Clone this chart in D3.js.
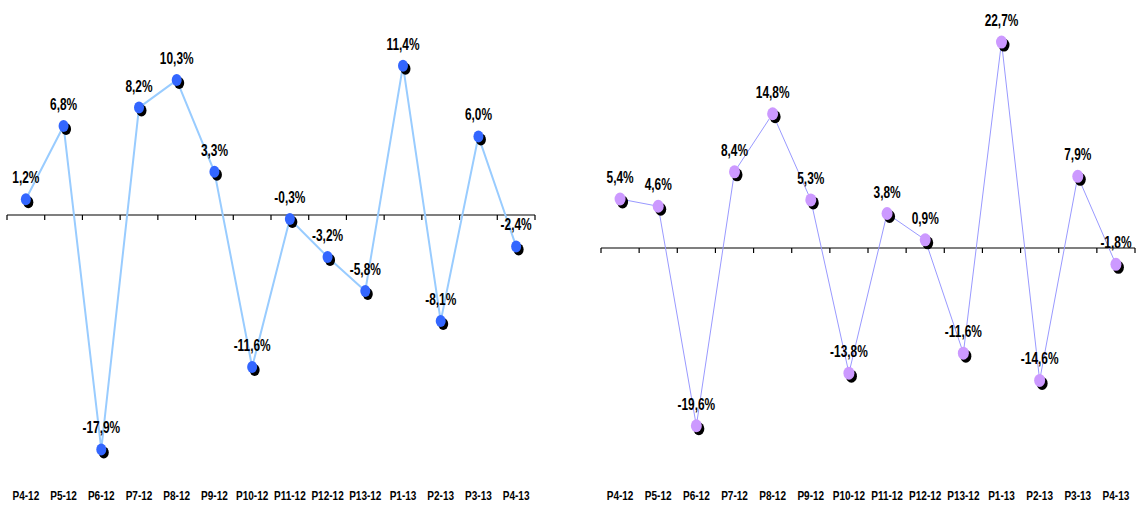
<!DOCTYPE html>
<html>
<head>
<meta charset="utf-8">
<script src="https://cdn.jsdelivr.net/npm/d3@7/dist/d3.min.js"></script>
<style>
  html, body { margin: 0; padding: 0; background: #fff; }
  svg { display: block; }
  .val { font-family: "Liberation Sans", Arial, sans-serif; font-weight: bold; font-size: 17px; fill: #000; }
  .cat text { font-family: "Liberation Sans", Arial, sans-serif; font-weight: bold; font-size: 13px; fill: #000; }
</style>
</head>
<body>
<svg id="chart" width="1138" height="508"></svg>
<script>
// Period labels shared by both panels
const periods = ["P4-12", "P5-12", "P6-12", "P7-12", "P8-12", "P9-12", "P10-12",
                 "P11-12", "P12-12", "P13-12", "P1-13", "P2-13", "P3-13", "P4-13"];

// Period-over-period change (%) — left panel
const changeLeft = [1.2, 6.8, -17.9, 8.2, 10.3, 3.3, -11.6, -0.3, -3.2, -5.8, 11.4, -8.1, 6.0, -2.4];

// Period-over-period change (%) — right panel
const changeRight = [5.4, 4.6, -19.6, 8.4, 14.8, 5.3, -13.8, 3.8, 0.9, -11.6, 22.7, -14.6, 7.9, -1.8];

const svg = d3.select("#chart");
// comma decimal, plain hyphen for negatives
const fmt = v => (v < 0 ? "-" : "") + Math.abs(v).toFixed(1).replace(".", ",") + "%";

function panel(cfg) {
  const x = d3.scaleBand().domain(periods).range(cfg.xRange);
  const y = d3.scaleLinear().domain(cfg.yDomain).range(cfg.yRange);
  const g = svg.append("g");
  const y0 = y(0);

  // zero line with ticks between categories
  const edges = periods.map(p => x(p)).concat([x.range()[1]]);
  g.append("line")
    .attr("x1", x.range()[0]).attr("x2", x.range()[1])
    .attr("y1", y0).attr("y2", y0)
    .attr("stroke", "#000").attr("stroke-width", 1.2);
  g.selectAll(".tk").data(edges).join("line")
    .attr("x1", d => d).attr("x2", d => d)
    .attr("y1", y0).attr("y2", y0 + 5)
    .attr("stroke", "#000").attr("stroke-width", 1.2);

  // category labels along the bottom (condensed)
  g.append("g").attr("class", "cat")
    .attr("transform", `translate(0,${cfg.labelY})`)
    .call(d3.axisBottom(x).tickSize(0).tickPadding(0))
    .call(a => a.select(".domain").remove())
    .call(a => a.selectAll("text").attr("transform", "scale(0.77,1)"));

  const pts = cfg.values.map((v, i) => ({ p: periods[i], v }));
  const cx = d => x(d.p) + x.bandwidth() / 2;

  g.append("path").datum(pts)
    .attr("fill", "none")
    .attr("stroke", cfg.lineColor)
    .attr("stroke-width", cfg.lineWidth)
    .attr("d", d3.line().x(cx).y(d => y(d.v)));

  // markers with drop shadow
  g.selectAll(".sh").data(pts).join("ellipse")
    .attr("cx", d => cx(d) + 2.5).attr("cy", d => y(d.v) + 3)
    .attr("rx", cfg.rx).attr("ry", cfg.ry).attr("fill", "#000");
  g.selectAll(".mk").data(pts).join("ellipse")
    .attr("cx", cx).attr("cy", d => y(d.v))
    .attr("rx", cfg.rx).attr("ry", cfg.ry).attr("fill", cfg.markerColor);

  // value labels above each marker (condensed)
  g.selectAll(".val").data(pts).join("text")
    .attr("class", "val")
    .attr("transform", d => `translate(${cx(d)},${y(d.v) - 16}) scale(0.7,1)`)
    .attr("text-anchor", "middle")
    .text(d => fmt(d.v));
}

panel({
  values: changeLeft,
  xRange: [7, 535],
  yDomain: [-20, 15],
  yRange: [477, 18.5],
  labelY: 491,
  lineColor: "#99ccff",
  lineWidth: 2,
  markerColor: "#3366ff",
  rx: 5, ry: 6
});

panel({
  values: changeRight,
  xRange: [601, 1135],
  yDomain: [-22, 25],
  yRange: [447.5, 21.25],
  labelY: 491,
  lineColor: "#9999ff",
  lineWidth: 1,
  markerColor: "#cc99ff",
  rx: 5.5, ry: 6.5
});
</script>
</body>
</html>
